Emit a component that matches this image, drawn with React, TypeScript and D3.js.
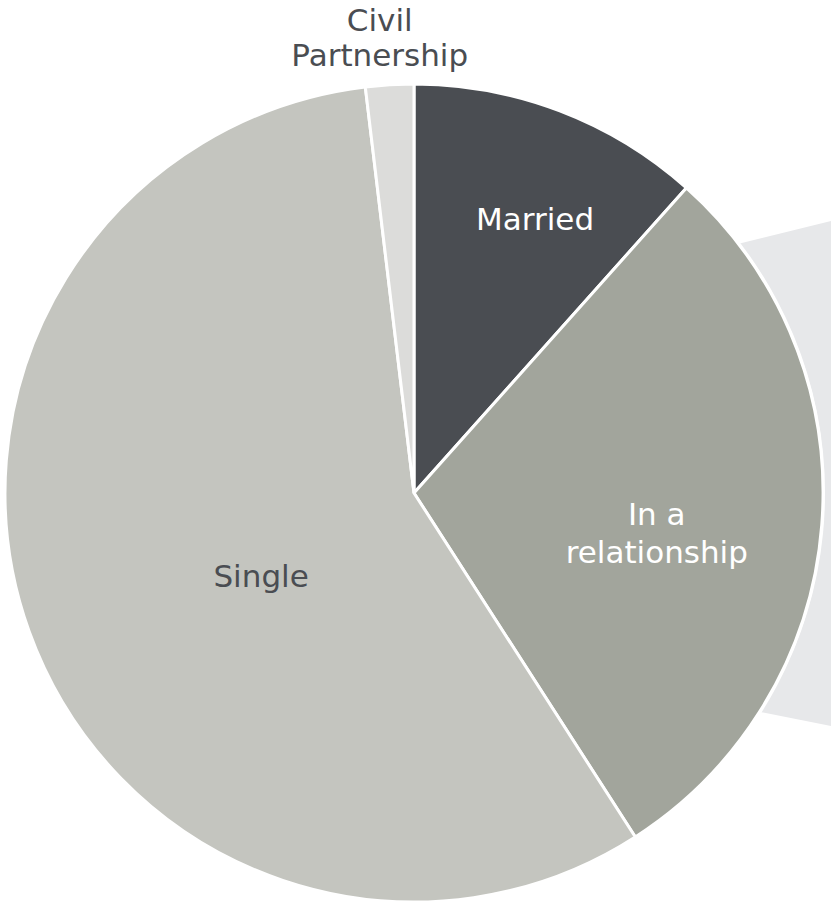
import React from "react";
import * as d3 from "d3";

const categories = ["Married", "In a relationship", "Single", "Civil Partnership"];
const values = [11.6, 29.3, 57.2, 1.9];
const labelLines = [["Married"], ["In a", "relationship"], ["Single"], ["Civil", "Partnership"]];

const colors = ["#4a4d52", "#a2a59c", "#c4c5bf", "#dcdcda"];
const textColors = ["#ffffff", "#ffffff", "#4a4d52", "#4a4d52"];
// label placement: [radius, angle in degrees clockwise from north, line height]
const labelPolar: [number, number, number][] = [
  [300, 23.8, 38],
  [246, 99.3, 38],
  [174, 241.5, 38],
  [457, 355.7, 35],
];

const W = 831;
const H = 908;
const cx = 414;
const cy = 493;
const R = 409;
const fontSize = 31;

export default function App() {
  const pie = d3.pie<number>().sort(null).value((d) => d)(values);
  const arc = d3.arc<d3.PieArcDatum<number>>().innerRadius(0).outerRadius(R);
  return (
    <svg
      width={W}
      height={H}
      style={{ position: "absolute", left: 0, top: 0 }}
      fontFamily="'DejaVu Sans', Verdana, sans-serif"
    >
      <rect width={W} height={H} fill="#ffffff" />
      <polygon points="600,278 831,221 831,726 600,680" fill="#e7e8ea" />
      <circle cx={cx} cy={cy} r={R + 2} fill="#ffffff" />
      <g transform={`translate(${cx},${cy})`}>
        {pie.map((p, i) => (
          <path key={categories[i]} d={arc(p) || ""} fill={colors[i]} stroke="#ffffff" strokeWidth={3} strokeLinejoin="miter" />
        ))}
        {labelLines.map((lines, i) => {
          const [r, a, lineH] = labelPolar[i];
          const rad = (a * Math.PI) / 180;
          const x = Math.sin(rad) * r;
          const y = -Math.cos(rad) * r;
          const y0 = y - ((lines.length - 1) * lineH) / 2;
          return (
            <text key={i} x={x} textAnchor="middle" fill={textColors[i]} fontSize={fontSize}>
              {lines.map((l, j) => (
                <tspan key={j} x={x} y={y0 + j * lineH} dy="0.36em">
                  {l}
                </tspan>
              ))}
            </text>
          );
        })}
      </g>
    </svg>
  );
}
